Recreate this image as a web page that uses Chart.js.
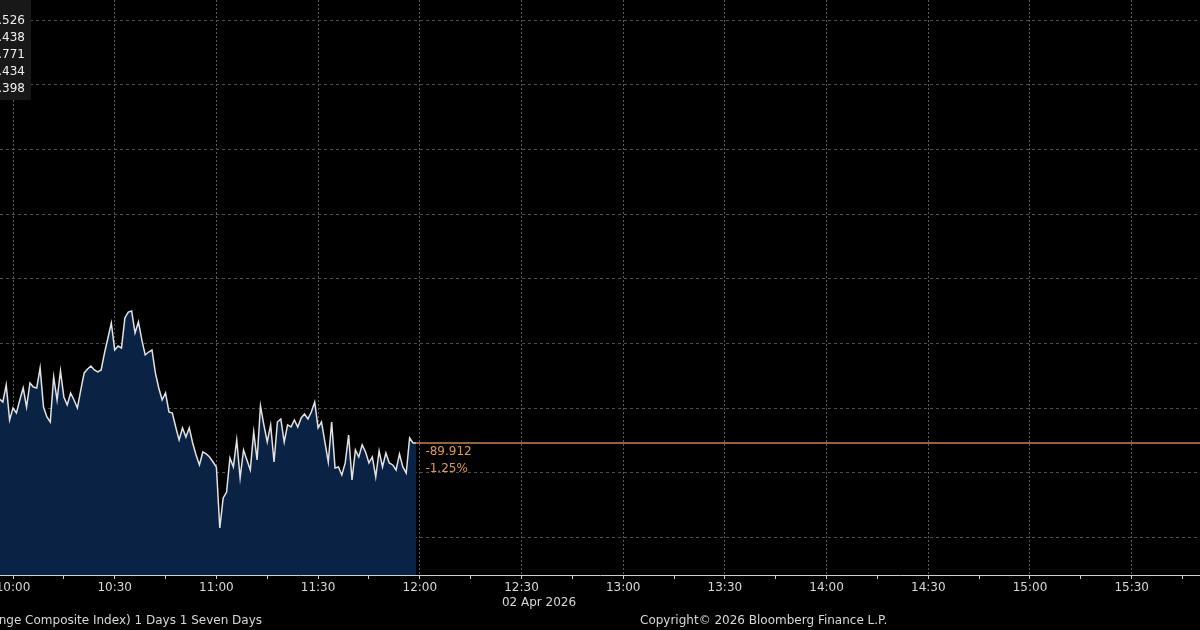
<!DOCTYPE html>
<html>
<head>
<meta charset="utf-8">
<script src="https://cdn.jsdelivr.net/npm/chart.js@4"></script>
<style>
  html, body { margin: 0; padding: 0; background: #000; overflow: hidden; }
  canvas { display: block; }
</style>
</head>
<body>
<canvas id="chart" width="1200" height="630"></canvas>
<script>
// intraday prices, one per minute from 09:56 to 11:59
const startTime = "09:56";
const prices = [
    7111.44, 7110.97, 7113.60, 7108.19, 7110.05, 7109.27, 7111.28, 7113.14, 7110.20, 7113.91,
    7113.29, 7113.14, 7116.23, 7110.20, 7108.66, 7107.88, 7114.84, 7111.28, 7115.77, 7111.75,
    7110.51, 7112.36, 7111.28, 7110.05, 7112.83, 7115.46, 7116.07, 7116.54, 7115.92, 7115.61,
    7115.92, 7118.55, 7120.87, 7123.18, 7119.01, 7119.63, 7119.32, 7123.96, 7124.88, 7125.04,
    7121.64, 7123.34, 7120.56, 7118.24, 7118.70, 7119.01, 7115.46, 7113.14, 7111.28, 7112.36,
    7109.43, 7109.27, 7107.11, 7105.10, 7106.96, 7105.56, 7106.96, 7104.64, 7102.78, 7101.24,
    7103.25, 7102.94, 7102.47, 7101.70, 7100.93, 7091.50, 7096.14, 7097.06, 7102.32, 7100.93,
    7105.10, 7099.23, 7103.55, 7102.01, 7100.46, 7106.34, 7102.01, 7110.36, 7107.42, 7104.79,
    7107.42, 7101.70, 7107.88, 7108.35, 7104.79, 7107.42, 7107.11, 7108.19, 7107.11, 7108.50,
    7109.12, 7108.35, 7109.43, 7110.97, 7106.96, 7107.88, 7104.79, 7101.70, 7107.88, 7100.77,
    7100.93, 7099.69, 7101.55, 7105.87, 7098.92, 7103.55, 7102.47, 7104.33, 7103.25, 7101.55,
    7102.47, 7099.38, 7103.40, 7100.93, 7103.09, 7101.55, 7101.24, 7100.46, 7102.94, 7100.93,
    7100.00, 7105.41, 7104.64, 7104.64
];
const prevClose = 7194.552;
const legendValues = ["7104.526", "7125.438", "7111.771", "7091.434", "7194.398"];
const seriesTitle = "Stock Exchange Composite Index) 1 Days 1 Seven Days";
const dateLabel = "02 Apr 2026";
const copyright = "Copyright\u00a9 2026 Bloomberg Finance L.P.";

const FONT = "DejaVu Sans";
const toMin = (s) => { const [h, m] = s.split(":").map(Number); return h * 60 + m; };
const fmtMin = (v) => String(Math.floor(v / 60)).padStart(2, "0") + ":" + String(v % 60).padStart(2, "0");
const isStep = (v, step) => Math.abs(v / step - Math.round(v / step)) < 1e-6;

// keep only round ticks inside the axis range
const roundTicks = (step) => (s) => {
    const out = [];
    for (let v = Math.ceil(s.min / step) * step; v <= s.max; v += step) out.push({ value: v });
    s.ticks = out;
};

const t0 = toMin(startTime);
const points = prices.map((p, i) => ({ x: t0 + i, y: p }));
const last = prices[prices.length - 1];
const change = last - prevClose;
const pct = (change / prevClose) * 100;

const lastValue = {
    id: "lastValue",
    afterDatasetsDraw(chart) {
        const { ctx, chartArea, scales } = chart;
        const yPix = Math.round(scales.y.getPixelForValue(last));
        const xPix = scales.x.getPixelForValue(t0 + prices.length - 1);
        ctx.save();
        ctx.strokeStyle = "#c7844a";
        ctx.lineWidth = 1.5;
        ctx.beginPath();
        ctx.moveTo(xPix, yPix);
        ctx.lineTo(chartArea.right, yPix);
        ctx.stroke();

        ctx.font = `12px ${FONT}`;
        ctx.fillStyle = "#e39a4f";
        ctx.textBaseline = "middle";
        ctx.fillText(change.toFixed(3), xPix + 9, yPix + 9);
        ctx.fillText(pct.toFixed(2) + "%", xPix + 9, yPix + 26);
        ctx.restore();
    },
};

const bloombergText = {
    id: "bloombergText",
    afterDraw(chart) {
        const { ctx } = chart;
        ctx.save();
        // legend box (cut at the left edge)
        ctx.fillStyle = "#181818";
        ctx.fillRect(0, 0, 31, 100);
        ctx.font = `12px ${FONT}`;
        ctx.fillStyle = "#eeeeee";
        ctx.textAlign = "right";
        ctx.textBaseline = "middle";
        legendValues.forEach((v, i) => ctx.fillText(v, 25, 21 + i * 17));

        ctx.fillStyle = "#d8d8d8";
        ctx.textAlign = "right";
        ctx.fillText(seriesTitle, 262, 621);
        ctx.textAlign = "center";
        ctx.fillText(dateLabel, 539, 603);
        ctx.textAlign = "left";
        ctx.fillText(copyright, 640, 621);
        ctx.restore();
    },
};

Chart.defaults.font.family = FONT;
Chart.defaults.font.size = 12;

new Chart(document.getElementById("chart"), {
    type: "line",
    data: {
        datasets: [
            {
                data: points,
                borderColor: "#e2e2e2",
                borderWidth: 1.5,
                backgroundColor: "#0a2344",
                fill: "start",
                pointRadius: 0,
                tension: 0,
            },
        ],
    },
    options: {
        responsive: false,
        animation: false,
        events: [],
        layout: { padding: 0 },
        plugins: { legend: { display: false }, tooltip: { enabled: false } },
        scales: {
            x: {
                type: "linear",
                min: 596.165,
                max: 950.15,
                afterBuildTicks: roundTicks(15),
                afterFit: (s) => {
                    s.height = 55;
                    s.paddingLeft = 0;
                    s.paddingRight = 0;
                },
                ticks: {
                    autoSkip: false,
                    maxRotation: 0,
                    color: "#d8d8d8",
                    padding: 2,
                    callback: (v) => (isStep(v, 30) ? fmtMin(Math.round(v)) : ""),
                },
                grid: {
                    color: (c) => (c.tick && isStep(c.tick.value, 30) ? "#5a5a5a" : "transparent"),
                    tickColor: "#cfcfcf",
                    tickLength: 4,
                    lineWidth: 1,
                },
                border: { display: true, color: "#cfcfcf", dash: [2, 2] },
            },
            y: {
                position: "right",
                min: 7084.23,
                max: 7173.11,
                afterBuildTicks: roundTicks(10),
                afterFit: (s) => {
                    s.width = 0;
                    s.paddingTop = 0;
                    s.paddingBottom = 0;
                },
                ticks: { display: false },
                grid: { color: "#4e4e4e", drawTicks: false },
                border: { display: false, dash: [3, 3] },
            },
        },
    },
    plugins: [lastValue, bloombergText],
});
</script>
</body>
</html>
